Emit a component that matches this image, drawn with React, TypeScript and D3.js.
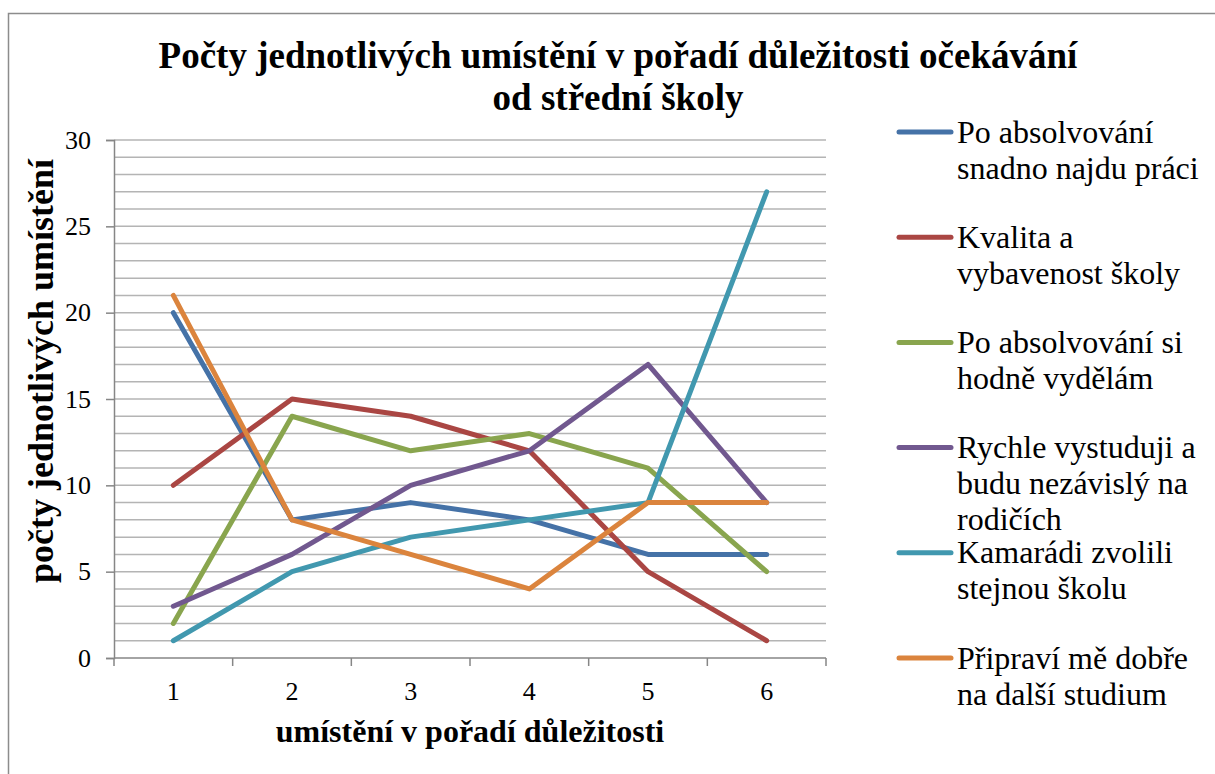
import React, { useRef, useEffect } from 'react';
import * as d3 from 'd3';

// chart values
const categories = ['1', '2', '3', '4', '5', '6'];
const yTicks = [0, 5, 10, 15, 20, 25, 30];

const seriesNames = [
  ['Po absolvování', 'snadno najdu práci'],
  ['Kvalita a', 'vybavenost školy'],
  ['Po absolvování si', 'hodně vydělám'],
  ['Rychle vystuduji a', 'budu nezávislý na', 'rodičích'],
  ['Kamarádi zvolili', 'stejnou školu'],
  ['Připraví mě dobře', 'na další studium'],
];
const seriesColors = ['#4572A7', '#AA4643', '#89A54E', '#71588F', '#4198AF', '#DB843D'];

const blueValues = [20, 8, 9, 8, 6, 6];
const redValues = [10, 15, 14, 12, 5, 1];
const greenValues = [2, 14, 12, 13, 11, 5];
const purpleValues = [3, 6, 10, 12, 17, 9];
const tealValues = [1, 5, 7, 8, 9, 27];
const orangeValues = [21, 8, 6, 4, 9, 9];
const seriesValues = [blueValues, redValues, greenValues, purpleValues, tealValues, orangeValues];

const FONT = "'Liberation Serif', 'Times New Roman', Times, 'DejaVu Serif', serif";

const App = () => {
  const svgRef = useRef<SVGSVGElement | null>(null);

  useEffect(() => {
    if (!svgRef.current) return;
    const width = 1215;
    const height = 774;
    const plot = { left: 114, right: 826, top: 140, bottom: 658 };

    const svg = d3.select(svgRef.current);
    svg.selectAll('*').remove();
    svg.attr('width', width).attr('height', height)
      .style('font-family', FONT);

    // outer chart frame (cut off on right / bottom like the reference)
    svg.append('rect')
      .attr('x', 8.5).attr('y', 13.5)
      .attr('width', 1300).attr('height', 1000)
      .attr('fill', '#fff')
      .attr('stroke', '#8c8c8c')
      .attr('stroke-width', 1.5);

    const x = d3.scaleBand<string>().domain(categories).range([plot.left, plot.right]);
    const y = d3.scaleLinear().domain([0, 30]).range([plot.bottom, plot.top]);

    // gridlines every unit
    svg.append('g')
      .selectAll('line')
      .data(d3.range(1, 31))
      .enter().append('line')
      .attr('x1', plot.left).attr('x2', plot.right)
      .attr('y1', d => y(d)).attr('y2', d => y(d))
      .attr('stroke', '#b4b4b4')
      .attr('stroke-width', 1.5);

    // y axis
    const yAxis = svg.append('g')
      .attr('transform', `translate(${plot.left},0)`)
      .call(d3.axisLeft(y).tickValues(yTicks).tickSize(8).tickPadding(15));
    yAxis.attr('font-family', null);
    yAxis.select('.domain').attr('stroke', '#868686').attr('stroke-width', 1.5);
    yAxis.selectAll('.tick line').attr('stroke', '#868686').attr('stroke-width', 1.5);
    yAxis.selectAll('.tick text')
      .style('font-family', FONT).attr('font-size', 26).attr('fill', '#000');

    // x axis: ticks at band boundaries, labels at band centres
    const xg = svg.append('g');
    xg.append('line')
      .attr('x1', plot.left).attr('x2', plot.right)
      .attr('y1', plot.bottom).attr('y2', plot.bottom)
      .attr('stroke', '#868686').attr('stroke-width', 1.5);
    const bounds = categories.map(c => x(c) as number).concat([plot.right]);
    xg.selectAll('.xt')
      .data(bounds)
      .enter().append('line')
      .attr('x1', d => d).attr('x2', d => d)
      .attr('y1', plot.bottom).attr('y2', plot.bottom + 8)
      .attr('stroke', '#868686').attr('stroke-width', 1.5);
    xg.selectAll('text')
      .data(categories)
      .enter().append('text')
      .attr('x', d => (x(d) as number) + x.bandwidth() / 2)
      .attr('y', 700)
      .attr('text-anchor', 'middle')
      .attr('font-size', 26)
      .text(d => d);

    // series lines
    const line = d3.line<number>()
      .x((_, i) => (x(categories[i]) as number) + x.bandwidth() / 2)
      .y(d => y(d));
    svg.append('g')
      .selectAll('path')
      .data(seriesValues)
      .enter().append('path')
      .attr('d', d => line(d))
      .attr('fill', 'none')
      .attr('stroke', (_, i) => seriesColors[i])
      .attr('stroke-width', 5)
      .attr('stroke-linejoin', 'round')
      .attr('stroke-linecap', 'round');

    // titles
    const title = svg.append('text')
      .attr('text-anchor', 'middle')
      .attr('font-size', 37).attr('font-weight', 'bold');
    title.append('tspan').attr('x', 618).attr('y', 68).text('Počty jednotlivých umístění v pořadí důležitosti očekávání');
    title.append('tspan').attr('x', 618).attr('y', 110).text('od střední školy');

    svg.append('text')
      .attr('x', 470).attr('y', 742)
      .attr('text-anchor', 'middle')
      .attr('font-size', 32).attr('font-weight', 'bold')
      .text('umístění v pořadí důležitosti');

    svg.append('text')
      .attr('transform', 'translate(53,371) rotate(-90)')
      .attr('text-anchor', 'middle')
      .attr('font-size', 36).attr('font-weight', 'bold')
      .text('počty jednotlivých umístění');

    // legend
    const legend = svg.append('g');
    const entry = legend.selectAll('g')
      .data(seriesNames)
      .enter().append('g')
      .attr('transform', (_, i) => `translate(0,${132 + i * 105.2})`);
    entry.append('line')
      .attr('x1', 899).attr('x2', 951)
      .attr('y1', 0).attr('y2', 0)
      .attr('stroke', (_, i) => seriesColors[i])
      .attr('stroke-width', 5)
      .attr('stroke-linecap', 'round');
    entry.append('text')
      .attr('font-size', 32)
      .selectAll('tspan')
      .data(d => d)
      .enter().append('tspan')
      .attr('x', 957)
      .attr('y', (_, j) => 10.5 + j * 36)
      .text(d => d);
  }, []);

  return <svg ref={svgRef} style={{ position: 'absolute', left: 0, top: 0 }}></svg>;
};

export default App;
